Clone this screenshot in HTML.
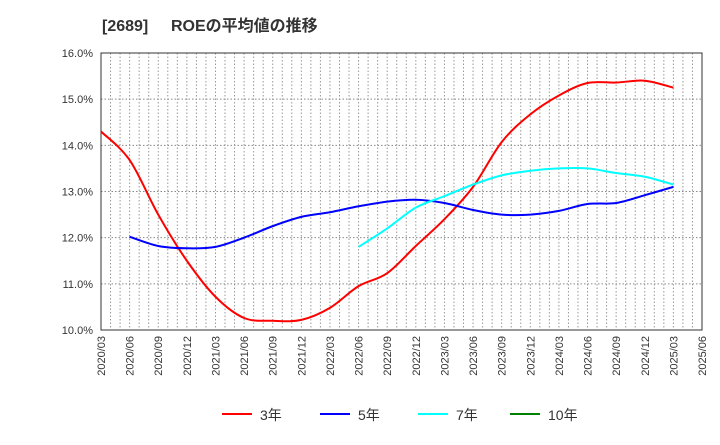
<!DOCTYPE html>
<html><head><meta charset="utf-8"><style>
body{margin:0;background:#fff;font-family:"Liberation Sans","Noto Sans CJK JP",sans-serif}
</style></head><body>
<svg width="720" height="440" xmlns="http://www.w3.org/2000/svg" font-family="Liberation Sans, Noto Sans CJK JP, sans-serif">
<text x="102" y="31" font-size="16" font-weight="bold" fill="#333">[2689]</text>
<text x="171" y="31" font-size="16" font-weight="bold" fill="#333">ROEの平均値の推移</text>
<g id="grid"></g><g id="axes"></g><g id="series"></g><g id="legend"></g>
</svg>
<script>
const xLabels=["2020/03","2020/06","2020/09","2020/12","2021/03","2021/06","2021/09","2021/12","2022/03","2022/06","2022/09","2022/12","2023/03","2023/06","2023/09","2023/12","2024/03","2024/06","2024/09","2024/12","2025/03","2025/06"];
const yTicks=[10,11,12,13,14,15,16];
const roe3=[14.3,13.68,12.5,11.5,10.72,10.26,10.2,10.22,10.48,10.95,11.23,11.82,12.4,13.1,14.07,14.67,15.08,15.35,15.36,15.4,15.25];
const roe5=[null,12.02,11.82,11.77,11.8,12.0,12.25,12.45,12.55,12.68,12.78,12.82,12.75,12.6,12.5,12.5,12.58,12.73,12.75,12.92,13.1];
const roe7=[null,null,null,null,null,null,null,null,null,11.8,12.2,12.65,12.9,13.15,13.35,13.45,13.5,13.5,13.4,13.32,13.15];
const roe10=[];
const L=101,R=702,T=53,B=330;
const xs=i=>L+i*(R-L)/21;
const ys=v=>B-(v-10)*(B-T)/6;
const NS="http://www.w3.org/2000/svg";
function mk(tag,attrs,parent){const e=document.createElementNS(NS,tag);for(const k in attrs)e.setAttribute(k,attrs[k]);document.getElementById(parent).appendChild(e);return e;}
for(let m=1;m<63;m++){const x=L+m*(R-L)/63;const g=mk('line',{x1:x,x2:x,y1:T,y2:B,stroke:'#999','stroke-dasharray':'1.5,2','stroke-width':1},'grid');

}
yTicks.forEach(v=>{const y=ys(v);const g=mk('line',{x1:L,x2:R,y1:y,y2:y,stroke:'#888','stroke-dasharray':'1.5,2'},'grid');


const t=mk('text',{x:L-8,y:y+4,'text-anchor':'end','font-size':11,fill:'#333'},'axes');t.textContent=v.toFixed(1)+'%';

});
const fr=mk('rect',{x:L,y:T,width:R-L,height:B-T,fill:'none',stroke:'#333','stroke-width':1},'axes');


xLabels.forEach((s,i)=>{const x=xs(i);const t=mk('text',{x:x+4,y:B+6,'text-anchor':'end','font-size':11,fill:'#333',transform:`rotate(-90 ${x+4} ${B+6})`},'axes');t.textContent=s;

});
function path(arr){const p=[];arr.forEach((v,i)=>{if(v!=null)p.push([xs(i),ys(v)])});if(p.length<2)return '';
let d=`M${p[0][0]},${p[0][1]}`;for(let i=0;i<p.length-1;i++){const p0=p[i-1]||p[i],p1=p[i],p2=p[i+1],p3=p[i+2]||p2;
d+=` C${p1[0]+(p2[0]-p0[0])/6},${p1[1]+(p2[1]-p0[1])/6} ${p2[0]-(p3[0]-p1[0])/6},${p2[1]-(p3[1]-p1[1])/6} ${p2[0]},${p2[1]}`;}return d;}
[[roe3,'#ff0000','series-3yr'],[roe5,'#0000ff','series-5yr'],[roe7,'#00ffff','series-7yr'],[roe10,'#008000','series-10yr']].forEach(([a,c,n])=>{const d=path(a);if(!d)return;
const e=mk('path',{d:d,fill:'none',stroke:c,'stroke-width':2},'series');

});
[['3年','#ff0000',222],['5年','#0000ff',320],['7年','#00ffff',418],['10年','#008000',510]].forEach(([s,c,x])=>{
const l=mk('line',{x1:x,x2:x+30,y1:414,y2:414,stroke:c,'stroke-width':2},'legend');


const t=mk('text',{x:x+38,y:420,'font-size':14,fill:'#333'},'legend');t.textContent=s;

});
</script>
</body></html>
